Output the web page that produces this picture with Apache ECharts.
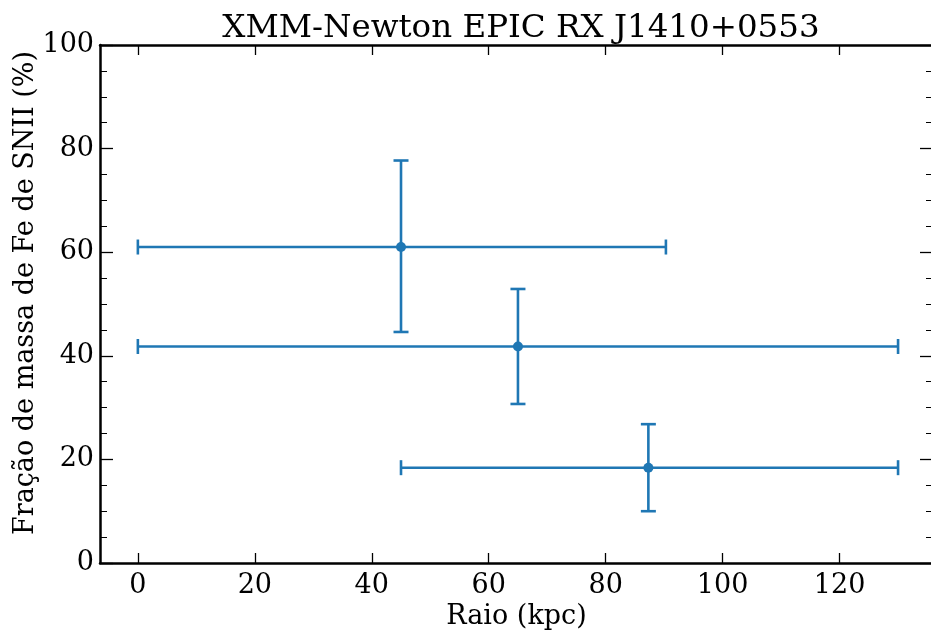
<!DOCTYPE html>
<html>
<head>
<meta charset="utf-8">
<script src="https://cdn.jsdelivr.net/npm/echarts@6/dist/echarts.min.js"></script>
<style>
  html, body { margin: 0; padding: 0; background: #fff; }
  #chart { width: 931px; height: 635px; }
</style>
</head>
<body>
<div id="chart"></div>
<script>
const raio = [45, 65, 87.3]
const fracao = [61, 41.8, 18.4]
// extremos das barras de erro
const raioMin = [0, 0, 45]
const raioMax = [90.3, 130, 130]
const fracaoMin = [44.6, 30.7, 10.0]
const fracaoMax = [77.7, 52.9, 26.8]

const xTicks = [0, 20, 40, 60, 80, 100, 120]

const cor = '#1f77b4'
const fonte = 'DejaVu Serif'

const chart = echarts.init(document.getElementById('chart'))

const points = raio.map((x, i) => [x, fracao[i], raioMin[i], raioMax[i], fracaoMin[i], fracaoMax[i]])

function renderErr(params, api) {
  const x = api.value(0), y = api.value(1)
  const xl = api.coord([api.value(2), y])
  const xr = api.coord([api.value(3), y])
  const yb = api.coord([x, api.value(4)])
  const yt = api.coord([x, api.value(5)])
  const cap = 7.5
  const style = { stroke: cor, lineWidth: 2.6, fill: null }
  const seg = (x1, y1, x2, y2) => ({ type: 'line', shape: { x1, y1, x2, y2 }, style })
  return {
    type: 'group',
    children: [
      seg(xl[0], xl[1], xr[0], xr[1]),
      seg(xl[0], xl[1] - cap, xl[0], xl[1] + cap),
      seg(xr[0], xr[1] - cap, xr[0], xr[1] + cap),
      seg(yb[0], yb[1], yt[0], yt[1]),
      seg(yb[0] - cap, yb[1], yb[0] + cap, yb[1]),
      seg(yt[0] - cap, yt[1], yt[0] + cap, yt[1])
    ]
  }
}

const axisLine = { show: true, onZero: false, lineStyle: { color: '#000', width: 2.5 } }

const xBase = {
  type: 'value',
  min: -6.475,
  max: 135.975,
  axisLine,
  splitLine: { show: false },
  axisTick: { inside: true, length: 10, lineStyle: { color: '#000', width: 1.3 }, customValues: xTicks }
}

const yBase = {
  type: 'value',
  min: 0,
  max: 100,
  interval: 20,
  axisLine,
  splitLine: { show: false },
  axisTick: { inside: true, length: 13, lineStyle: { color: '#000', width: 1.3 } },
  minorTick: { show: true, splitNumber: 4, length: 7, lineStyle: { color: '#000', width: 1 } },
  minorSplitLine: { show: false }
}

chart.setOption({
  animation: false,
  title: {
    text: 'XMM-Newton EPIC RX J1410+0553',
    left: 516,
    textAlign: 'center',
    top: 7,
    textStyle: { fontFamily: fonte, fontWeight: 'normal', fontSize: 32.5, color: '#000' }
  },
  grid: { left: 100, top: 45, right: -2, bottom: 72, outerBoundsMode: 'none', containLabel: false },
  xAxis: [
    {
      ...xBase,
      position: 'bottom',
      name: 'Raio (kpc)',
      nameLocation: 'middle',
      nameGap: 40,
      nameMoveOverlap: false,
      nameTextStyle: { fontFamily: fonte, fontSize: 27, color: '#000' },
      axisLabel: { fontFamily: fonte, fontSize: 27, color: '#000', margin: 9, customValues: xTicks }
    },
    { ...xBase, position: 'top', axisLabel: { show: false } }
  ],
  yAxis: [
    {
      ...yBase,
      position: 'left',
      name: 'Fração de massa de Fe de SNII (%)',
      nameLocation: 'middle',
      nameGap: 61,
      nameMoveOverlap: false,
      nameTextStyle: { fontFamily: fonte, fontSize: 27, color: '#000', padding: [0, 0, 0, 22] },
      axisLabel: { fontFamily: fonte, fontSize: 27, color: '#000', margin: 6 }
    },
    { ...yBase, position: 'right', axisLabel: { show: false } }
  ],
  series: [
    {
      type: 'custom',
      renderItem: renderErr,
      data: points,
      encode: { x: 0, y: 1 },
      z: 2
    },
    {
      type: 'scatter',
      data: raio.map((x, i) => [x, fracao[i]]),
      symbol: 'circle',
      symbolSize: 10,
      itemStyle: { color: cor, opacity: 1 },
      z: 3
    }
  ]
})
</script>
</body>
</html>
